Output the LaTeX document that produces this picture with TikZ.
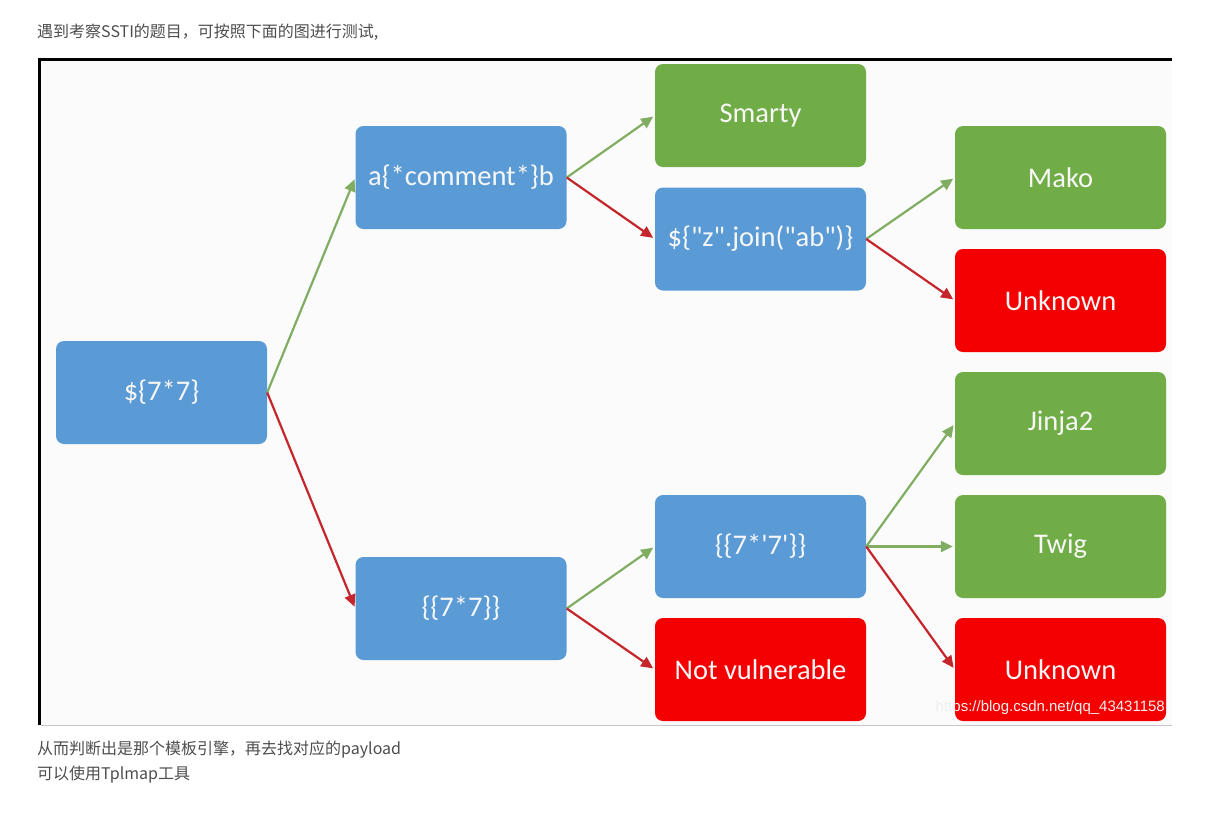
\documentclass[tikz,border=0pt]{standalone}
\usepackage{fontspec}
\setmainfont{Carlito}[Ligatures=TeXOff]
\newfontfamily\cjk{Noto Sans CJK SC}
\newfontfamily\wmfont{Liberation Sans}
\usetikzlibrary{arrows.meta}
\definecolor{boxblue}{HTML}{5B9BD5}
\definecolor{boxgreen}{HTML}{70AD47}
\definecolor{boxred}{HTML}{F40000}
\definecolor{arrgreen}{HTML}{80AD62}
\definecolor{arrred}{HTML}{C4262C}
\definecolor{txtgray}{HTML}{4D4D4D}
\newcommand{\dq}{\symbol{34}} % straight quotes
\newcommand{\sq}{\symbol{39}}
\tikzset{
  tbox/.style={rounded corners=8pt,minimum width=211pt,minimum height=103pt,inner sep=0pt,
    text=white!94!gray,font=\fontsize{28.5}{32}\selectfont},
  query/.style={tbox,fill=boxblue},
  engine/.style={tbox,fill=boxgreen},
  fail/.style={tbox,fill=boxred},
  yes/.style={draw=arrgreen,line width=2.2pt,-{Triangle[length=12pt,width=11pt]},shorten >=2pt},
  no/.style={draw=arrred,line width=2.2pt,-{Triangle[length=12pt,width=11pt]},shorten >=2pt},
  note/.style={anchor=west,inner sep=0pt,text=txtgray,font=\cjk\fontsize{16}{19}\selectfont}
}
\begin{document}
\begin{tikzpicture}[x=1pt,y=-1pt]
\useasboundingbox (0,0) rectangle (1225,820);
\node[note] (head) at (37,32) {遇到考察SSTI的题目，可按照下面的图进行测试,};
% frame
\fill[gray!3] (38,58) rectangle (1172,725);
\draw[gray!45] (41,725) -- (1172,725);
\draw[line width=3pt] (39.5,725) -- (39.5,59.5) -- (1172,59.5);
% tests
\node[query] (t0) at (161.5,392.5) {\$\{7*7\}};
\node[query] (t1) at (461,177.5) {a\{*comment*\}b};
\node[query] (t2) at (461,608.5) {\{\{7*7\}\}};
\node[query] (t3) at (760.5,239) {\$\{\dq z\dq.join(\dq ab\dq)\}};
\node[query] (t4) at (760.5,546.5) {\{\{7*\sq 7\sq\}\}};
% results
\node[engine] (smarty) at (760.5,115.5) {Smarty};
\node[fail] (novuln) at (760.5,669.5) {Not vulnerable};
\node[engine] (mako) at (1060.5,177.5) {Mako};
\node[fail] (unk1) at (1060.5,300.5) {Unknown};
\node[engine] (jinja) at (1060.5,423.5) {Jinja2};
\node[engine] (twig) at (1060.5,546.5) {Twig};
\node[fail] (unk2) at (1060.5,669.5) {Unknown};
\node[anchor=east,inner sep=0pt,text=white!88!gray,font=\wmfont\fontsize{15}{18}\selectfont] (wm) at (1165,708) {https://blog.csdn.net/qq\_43431158};
% arrows
\draw[yes] (t0.east) -- (t1.west);
\draw[no] (t0.east) -- (t2.west);
\draw[yes] (t1.east) -- (smarty.west);
\draw[no] (t1.east) -- (t3.west);
\draw[yes] (t3.east) -- (mako.west);
\draw[no] (t3.east) -- (unk1.west);
\draw[yes] (t2.east) -- (t4.west);
\draw[no] (t2.east) -- (novuln.west);
\draw[yes] (t4.east) -- (jinja.west);
\draw[yes] (t4.east) -- (twig.west);
\draw[no] (t4.east) -- (unk2.west);
\node[note] (foot1) at (37,750) {从而判断出是那个模板引擎，再去找对应的payload};
\node[note] (foot2) at (37,775) {可以使用Tplmap工具};
\end{tikzpicture}
\end{document}
